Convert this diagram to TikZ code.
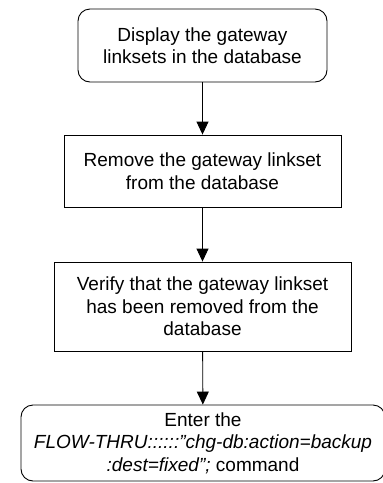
\documentclass[tikz,border=0pt]{standalone}
\usepackage{fontspec}
\setmainfont{Liberation Sans}
\usetikzlibrary{arrows.meta}
\begin{document}
\begin{tikzpicture}[x=1pt,y=-1pt,
  every node/.style={font=\fontsize{19}{22.5}\selectfont, align=center, inner sep=0pt},
  stepbox/.style={draw, line width=0.9pt, minimum width=#1},
  termbox/.style={draw, line width=0.9pt, rounded corners=12pt, minimum width=#1},
  flow/.style={line width=0.9pt, -{Triangle[length=13pt,width=12pt]}}]
\useasboundingbox (0,0) rectangle (383,483);
\node[termbox=249pt, minimum height=73pt] (n1) at (202.5,45.5) {Display the gateway\\linksets in the database};
\node[stepbox=277pt, minimum height=72pt] (n2) at (202.5,171) {Remove the gateway linkset\\from the database};
\node[stepbox=297pt, minimum height=89pt] (n3) at (202.5,306.5) {Verify that the gateway linkset\\has been removed from the\\database};
\node[termbox=364pt, minimum height=76pt] (n4) at (203,443) {Enter the\\\textit{FLOW-THRU::::::"chg-db:action=backup}\\\textit{:dest=fixed";} command};
\draw[flow] (n1) -- (n2);
\draw[flow] (n2) -- (n3);
\draw[flow] (n3) -- (n4);
\end{tikzpicture}
\end{document}
